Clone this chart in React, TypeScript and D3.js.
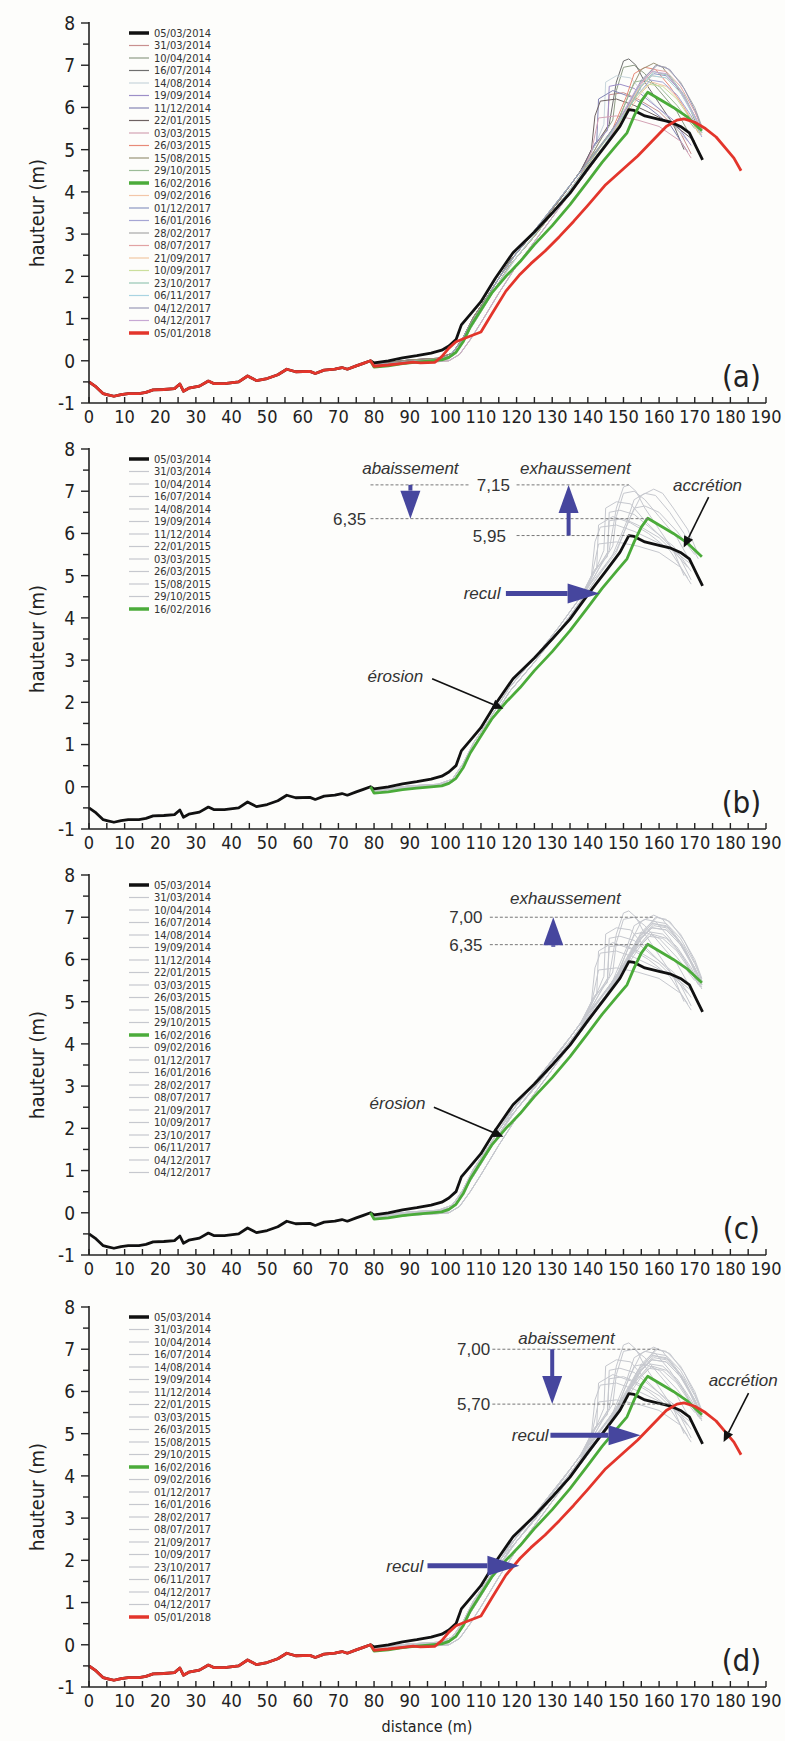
import React from 'react';
import * as d3 from 'd3';

type Pt = [number, number];

const NARROW = '"Liberation Sans Narrow", "Arial Narrow", "DejaVu Sans Condensed", "Liberation Sans", sans-serif';
const SANS = '"Liberation Sans", Arial, sans-serif';

// survey dates in legend order
const dates = [
  '05/03/2014', '31/03/2014', '10/04/2014', '16/07/2014', '14/08/2014', '19/09/2014',
  '11/12/2014', '22/01/2015', '03/03/2015', '26/03/2015', '15/08/2015', '29/10/2015',
  '16/02/2016', '09/02/2016', '01/12/2017', '16/01/2016', '28/02/2017', '08/07/2017',
  '21/09/2017', '10/09/2017', '23/10/2017', '06/11/2017', '04/12/2017', '04/12/2017',
  '05/01/2018',
];

// colours of panel (a)
const colorsA = [
  '#111111', '#c9908f', '#8f9d86', '#6f6f6f', '#c8d6dc', '#9d8fc8', '#8585b5', '#6e6262',
  '#d4a3b5', '#e88a78', '#9a9478', '#9cbc98', '#4bab3a', '#f3c6a8', '#8d98c4', '#a6a6d4',
  '#a8a8a8', '#e2a3a3', '#f2c8a4', '#cbdf9c', '#97c7b4', '#a9d4e2', '#9a9ab8', '#c7a8d4',
  '#e3352b',
];

// shared seaward part of the profile (distance m, height m)
const seaward: Pt[] = [
  [0, -0.5], [2, -0.62], [4, -0.78], [5, -0.8], [7, -0.84], [9, -0.8], [11, -0.78], [14, -0.78],
  [16, -0.75], [18, -0.69], [21, -0.68], [24, -0.66], [25.5, -0.55], [26.5, -0.72], [28, -0.65],
  [31, -0.6], [33.5, -0.48], [35, -0.54], [38, -0.54], [42, -0.5], [44.5, -0.36], [47, -0.47],
  [50, -0.42], [53, -0.33], [55.5, -0.2], [58, -0.26], [62, -0.25], [63.5, -0.3], [66, -0.22],
  [69, -0.2], [71, -0.16], [72.5, -0.2], [75, -0.12], [77, -0.06], [79, 0.0],
];

const landBlack: Pt[] = [
  [80, -0.05], [84, 0.0], [88, 0.07], [92, 0.12], [96, 0.18], [99, 0.25], [101, 0.35], [103, 0.5],
  [104.5, 0.85], [107, 1.1], [110, 1.4], [114, 1.95], [119, 2.56], [125, 3.05], [130, 3.5],
  [135, 3.97], [140, 4.55], [145, 5.1], [149, 5.55], [151.5, 5.95], [153, 5.93], [156, 5.8],
  [160, 5.72], [163, 5.66], [166, 5.55], [168.5, 5.4], [170.5, 5.05], [172.2, 4.76],
];

const landGreen: Pt[] = [
  [79, 0.0], [80, -0.15], [84, -0.12], [88, -0.07], [92, -0.03], [96, 0.0], [99, 0.02], [101, 0.08],
  [103, 0.2], [105, 0.45], [107, 0.8], [110, 1.2], [113, 1.6], [117, 2.0], [121, 2.35], [125, 2.75],
  [130, 3.2], [135, 3.7], [140, 4.25], [144, 4.7], [148, 5.1], [151, 5.4], [153, 5.8], [155, 6.15],
  [156.8, 6.36], [160, 6.2], [164, 6.0], [168, 5.77], [172, 5.45],
];

const landRed: Pt[] = [
  [80, -0.13], [84, -0.1], [88, -0.06], [91, -0.03], [93, -0.05], [97, -0.04], [99, 0.1], [101, 0.3],
  [103, 0.45], [106, 0.55], [110, 0.68], [113, 1.1], [117, 1.65], [121, 2.05], [124, 2.3], [128, 2.6],
  [132, 2.94], [136, 3.3], [140, 3.68], [145, 4.17], [150, 4.55], [154, 4.85], [158, 5.2], [162, 5.55],
  [165, 5.7], [167, 5.73], [170, 5.65], [173, 5.5], [176, 5.3], [179, 5.0], [181, 4.8], [183, 4.5],
];

// lower beach/dune-foot parts of the other surveys
const lowerA1: Pt[] = [[80, -0.08], [90, 0.02], [98, 0.06], [102, 0.18], [105, 0.55], [108, 1.05], [112, 1.55], [118, 2.35], [125, 3.05], [132, 3.8], [138, 4.5]];
const lowerA2: Pt[] = [[80, -0.1], [90, -0.02], [98, 0.04], [102, 0.12], [105, 0.45], [108, 0.95], [112, 1.45], [118, 2.25], [125, 2.95], [132, 3.7], [138, 4.4]];
const lowerB1: Pt[] = [[80, -0.12], [90, -0.04], [98, 0.0], [101, 0.05], [104, 0.3], [107, 0.75], [110, 1.15], [115, 1.85], [120, 2.45], [127, 3.2], [134, 3.95], [140, 4.6], [145, 5.15]];
const lowerB2: Pt[] = [[80, -0.1], [90, -0.02], [98, 0.02], [101, 0.1], [104, 0.4], [107, 0.85], [110, 1.25], [115, 1.95], [120, 2.55], [127, 3.3], [134, 4.05], [140, 4.7], [145, 5.25]];
const lowerB3: Pt[] = [[80, -0.14], [90, -0.06], [98, -0.02], [101, 0.0], [104, 0.15], [107, 0.5], [110, 0.9], [115, 1.6], [120, 2.25], [127, 3.05], [134, 3.85], [140, 4.5], [145, 5.1]];

// dune crests 2014-2015 (scarped)
const crestA1: Pt[] = [[142, 5.0], [145.5, 5.55], [146, 6.3], [150, 6.35], [154, 6.2], [160, 5.9], [166, 5.4], [169, 4.9]];
const crestA2: Pt[] = [[143, 5.15], [147, 5.7], [148, 6.4], [150, 6.95], [153, 7.0], [156, 6.8], [160, 6.4], [165, 5.9], [169, 5.3]];
const crestA3: Pt[] = [[142, 5.1], [146, 5.6], [148, 6.6], [150, 7.1], [151.5, 7.15], [153.5, 7.0], [156, 6.6], [160, 6.1], [164, 5.6], [167, 5.0]];
const crestA4: Pt[] = [[142, 5.1], [144.5, 5.6], [145, 6.6], [148, 6.75], [152, 6.7], [156, 6.3], [162, 5.8], [168, 5.2]];
const crestA5: Pt[] = [[142, 5.15], [145.5, 5.45], [146, 6.5], [149, 6.55], [153, 6.45], [158, 6.1], [164, 5.7], [169, 5.1]];
const crestA6: Pt[] = [[141, 5.0], [142.5, 5.2], [143, 6.2], [147, 6.4], [152, 6.25], [157, 6.0], [163, 5.6], [168, 4.95]];
const crestA7: Pt[] = [[141, 5.0], [142, 5.8], [143.5, 6.15], [148, 6.2], [153, 6.05], [158, 5.85], [164, 5.6], [170, 5.2]];
const crestA8: Pt[] = [[141, 4.95], [143, 5.75], [148, 5.8], [154, 5.7], [160, 5.55], [166, 5.2], [169, 4.8]];
const crestA9: Pt[] = [[143, 5.0], [147, 5.5], [151, 6.3], [153, 6.8], [156, 6.95], [159, 6.9], [163, 6.5], [167, 6.0], [171, 5.4]];
const crestA10: Pt[] = [[143, 5.05], [148, 5.6], [152, 6.4], [155, 6.9], [158.5, 7.05], [161, 6.95], [164, 6.6], [168, 6.1], [171, 5.5]];
const crestA11: Pt[] = [[143, 5.0], [148, 5.55], [151, 6.2], [153, 6.6], [156, 6.65], [160, 6.5], [165, 6.05], [170, 5.5]];

// dune crests 2016-2017 (rounded)
const crestB1: Pt[] = [[151, 5.85], [155, 6.35], [158, 6.6], [162, 6.5], [166, 6.15], [170, 5.6], [172, 5.35]];
const crestB2: Pt[] = [[151, 5.95], [155, 6.5], [158.5, 6.8], [162, 6.75], [166, 6.4], [170, 5.8], [172, 5.4]];
const crestB3: Pt[] = [[150, 5.8], [154, 6.3], [157.5, 6.65], [161, 6.6], [165, 6.3], [169, 5.8], [172, 5.3]];
const crestB4: Pt[] = [[151, 6.0], [155, 6.6], [159, 7.0], [162, 6.95], [166, 6.6], [170, 6.0], [172, 5.55]];
const crestB5: Pt[] = [[151, 5.95], [155, 6.55], [158.5, 6.9], [162, 6.85], [166, 6.5], [170, 5.9], [172, 5.5]];
const crestB6: Pt[] = [[150, 5.85], [154, 6.4], [158, 6.75], [162, 6.7], [166, 6.35], [170, 5.8], [172, 5.4]];
const crestB7: Pt[] = [[150, 5.8], [154, 6.3], [157, 6.55], [161, 6.5], [165, 6.2], [169, 5.7], [171.5, 5.35]];
const crestB8: Pt[] = [[151, 5.9], [155, 6.5], [158.5, 6.85], [163, 6.75], [167, 6.3], [170.5, 5.7], [172, 5.45]];
const crestB9: Pt[] = [[150, 5.85], [154, 6.45], [158, 6.75], [162, 6.7], [166, 6.35], [170, 5.75], [172, 5.4]];
const crestB10: Pt[] = [[151, 6.0], [155, 6.65], [159.5, 7.0], [163, 6.9], [167, 6.45], [170.5, 5.85], [172, 5.5]];
const crestB11: Pt[] = [[150, 5.9], [154, 6.5], [158, 6.85], [162, 6.8], [166, 6.4], [170, 5.8], [172, 5.45]];

// one profile per date (same order as dates)
const profiles: Pt[][] = [
  seaward.concat(landBlack),
  lowerA1.concat(crestA1), lowerA2.concat(crestA2), lowerA1.concat(crestA3), lowerA2.concat(crestA4),
  lowerA1.concat(crestA5), lowerA2.concat(crestA6), lowerA1.concat(crestA7), lowerA2.concat(crestA8),
  lowerA2.concat(crestA9), lowerA1.concat(crestA10), lowerA2.concat(crestA11),
  landGreen,
  lowerB1.concat(crestB1), lowerB2.concat(crestB2), lowerB3.concat(crestB3), lowerB2.concat(crestB4),
  lowerB3.concat(crestB5), lowerB1.concat(crestB6), lowerB3.concat(crestB7), lowerB2.concat(crestB8),
  lowerB1.concat(crestB9), lowerB2.concat(crestB10), lowerB3.concat(crestB11),
  seaward.concat(landRed),
];

const HEAVY = [0, 12, 24];
const GREY = '#c6c8ce';
const BLUE = '#46469e';

type Ann =
  | { kind: 'dash'; y: number; x1: number; x2: number }
  | { kind: 'text'; x: number; y: number; text: string; anchor: string; italic?: boolean }
  | { kind: 'blue'; x1: number; y1: number; x2: number; y2: number }
  | { kind: 'black'; x1: number; y1: number; x2: number; y2: number };

const annB: Ann[] = [
  { kind: 'dash', y: 7.15, x1: 79, x2: 107 },
  { kind: 'dash', y: 7.15, x1: 120, x2: 151.5 },
  { kind: 'dash', y: 6.35, x1: 79, x2: 157 },
  { kind: 'dash', y: 5.95, x1: 120, x2: 152 },
  { kind: 'text', x: 113.5, y: 7.15, text: '7,15', anchor: 'middle' },
  { kind: 'text', x: 77.8, y: 6.35, text: '6,35', anchor: 'end' },
  { kind: 'text', x: 117, y: 5.95, text: '5,95', anchor: 'end' },
  { kind: 'text', x: 90.2, y: 7.55, text: 'abaissement', anchor: 'middle', italic: true },
  { kind: 'text', x: 136.5, y: 7.55, text: 'exhaussement', anchor: 'middle', italic: true },
  { kind: 'text', x: 173.6, y: 7.15, text: 'accrétion', anchor: 'middle', italic: true },
  { kind: 'text', x: 115.5, y: 4.58, text: 'recul', anchor: 'end', italic: true },
  { kind: 'text', x: 93.8, y: 2.63, text: 'érosion', anchor: 'end', italic: true },
  { kind: 'blue', x1: 90.2, y1: 7.15, x2: 90.2, y2: 6.35 },
  { kind: 'blue', x1: 134.6, y1: 5.95, x2: 134.6, y2: 7.15 },
  { kind: 'blue', x1: 117, y1: 4.58, x2: 143.3, y2: 4.58 },
  { kind: 'black', x1: 173.9, y1: 6.86, x2: 166.9, y2: 5.67 },
  { kind: 'black', x1: 96.3, y1: 2.56, x2: 116.3, y2: 1.85 },
];

const annC: Ann[] = [
  { kind: 'dash', y: 7.0, x1: 112.5, x2: 158.7 },
  { kind: 'dash', y: 6.35, x1: 112.5, x2: 157 },
  { kind: 'text', x: 110.4, y: 7.0, text: '7,00', anchor: 'end' },
  { kind: 'text', x: 110.4, y: 6.35, text: '6,35', anchor: 'end' },
  { kind: 'text', x: 133.7, y: 7.45, text: 'exhaussement', anchor: 'middle', italic: true },
  { kind: 'text', x: 94.4, y: 2.6, text: 'érosion', anchor: 'end', italic: true },
  { kind: 'blue', x1: 130.3, y1: 6.3, x2: 130.3, y2: 7.0 },
  { kind: 'black', x1: 96.8, y1: 2.5, x2: 116.3, y2: 1.8 },
];

const annD: Ann[] = [
  { kind: 'dash', y: 7.0, x1: 113.2, x2: 160 },
  { kind: 'dash', y: 5.7, x1: 113.2, x2: 164 },
  { kind: 'text', x: 112.6, y: 7.0, text: '7,00', anchor: 'end' },
  { kind: 'text', x: 112.6, y: 5.7, text: '5,70', anchor: 'end' },
  { kind: 'text', x: 134, y: 7.26, text: 'abaissement', anchor: 'middle', italic: true },
  { kind: 'text', x: 129, y: 4.96, text: 'recul', anchor: 'end', italic: true },
  { kind: 'text', x: 93.8, y: 1.87, text: 'recul', anchor: 'end', italic: true },
  { kind: 'text', x: 173.9, y: 6.27, text: 'accrétion', anchor: 'start', italic: true },
  { kind: 'blue', x1: 130, y1: 7.0, x2: 130, y2: 5.7 },
  { kind: 'blue', x1: 129.5, y1: 4.96, x2: 154.8, y2: 4.96 },
  { kind: 'blue', x1: 95, y1: 1.87, x2: 120.8, y2: 1.87 },
  { kind: 'black', x1: 185.1, y1: 5.96, x2: 178.1, y2: 4.8 },
];

const xScale = d3.scaleLinear().domain([0, 190]).range([89, 766]);
const PANEL_H = 380;

function arrowHead(x1: number, y1: number, x2: number, y2: number, len: number, half: number) {
  const dx = x2 - x1, dy = y2 - y1;
  const L = Math.hypot(dx, dy) || 1;
  const ux = dx / L, uy = dy / L;
  const bx = x2 - ux * len, by = y2 - uy * len;
  const pts = [[x2, y2], [bx - uy * half, by + ux * half], [bx + uy * half, by - ux * half]];
  return { bx, by, points: pts.map(p => p.join(',')).join(' ') };
}

function Panel({ top, tag, count, colored, ann, showXTitle }: {
  top: number; tag: string; count: number; colored: boolean; ann: Ann[]; showXTitle?: boolean;
}) {
  const y = d3.scaleLinear().domain([-1, 8]).range([top + PANEL_H, top]);
  const line = d3.line<Pt>().x(d => xScale(d[0])).y(d => y(d[1]));
  const idx = d3.range(count);
  const thin = idx.filter(i => !HEAVY.includes(i));
  const heavy = idx.filter(i => HEAVY.includes(i));
  const colorOf = (i: number) => (colored || HEAVY.includes(i) ? colorsA[i] : GREY);
  const x0 = xScale(0);
  const yb = y(-1);

  return (
    <g>
      {thin.map(i => (
        <path key={'t' + i} d={line(profiles[i]) || ''} fill="none" stroke={colorOf(i)} strokeWidth={1} strokeLinejoin="round" />
      ))}
      {heavy.map(i => (
        <path key={'h' + i} d={line(profiles[i]) || ''} fill="none" stroke={colorOf(i)} strokeWidth={2.8} strokeLinejoin="round" />
      ))}

      {/* annotations */}
      {ann.map((a, k) => {
        if (a.kind === 'dash') {
          return <line key={k} x1={xScale(a.x1)} x2={xScale(a.x2)} y1={y(a.y)} y2={y(a.y)} stroke="#777" strokeWidth={1} strokeDasharray="3,2" />;
        }
        if (a.kind === 'text') {
          return (
            <text key={k} x={xScale(a.x)} y={y(a.y)} dy="0.35em" textAnchor={a.anchor}
              fontFamily={SANS} fontSize={17} fontStyle={a.italic ? 'italic' : 'normal'} fill="#333">{a.text}</text>
          );
        }
        const X1 = xScale(a.x1), Y1 = y(a.y1), X2 = xScale(a.x2), Y2 = y(a.y2);
        if (a.kind === 'blue') {
          const horiz = Math.abs(Y2 - Y1) < 1;
          const h = arrowHead(X1, Y1, X2, Y2, horiz ? 32 : 28, 10);
          return (
            <g key={k}>
              <line x1={X1} y1={Y1} x2={h.bx} y2={h.by} stroke={BLUE} strokeWidth={horiz ? 5 : 4} />
              <polygon points={h.points} fill={BLUE} />
            </g>
          );
        }
        const h = arrowHead(X1, Y1, X2, Y2, 11, 5);
        return (
          <g key={k}>
            <line x1={X1} y1={Y1} x2={h.bx} y2={h.by} stroke="#111" strokeWidth={1.6} />
            <polygon points={h.points} fill="#111" />
          </g>
        );
      })}

      {/* legend */}
      {idx.map(i => {
        const ly = top + 10 + i * 12.5;
        return (
          <g key={'l' + i}>
            <line x1={129} x2={149} y1={ly} y2={ly} stroke={colorOf(i)} strokeWidth={HEAVY.includes(i) ? 3.5 : 1.2} />
            <text x={154} y={ly} dy="0.35em" fontFamily={NARROW} fontSize={11} fill="#333">{dates[i]}</text>
          </g>
        );
      })}

      {/* y axis */}
      <line x1={x0} x2={x0} y1={top - 1} y2={yb} stroke="#222" strokeWidth={1.6} />
      {d3.range(-1, 8.01, 0.5).map(v => {
        const major = Math.abs(v - Math.round(v)) < 1e-6;
        return (
          <g key={'y' + v}>
            <line x1={x0 - (major ? 8 : 6)} x2={x0} y1={y(v)} y2={y(v)} stroke="#222" strokeWidth={1.4} />
            {major && (
              <text x={x0 - 14} y={y(v)} dy="0.36em" textAnchor="end" fontFamily={NARROW} fontSize={19} fill="#222">{v}</text>
            )}
          </g>
        );
      })}
      <text transform={`translate(37,${y(3.5)}) rotate(-90)`} textAnchor="middle" dy="0.35em"
        fontFamily={NARROW} fontSize={20} fill="#222">hauteur (m)</text>

      {/* x axis */}
      <line x1={x0} x2={xScale(190)} y1={yb} y2={yb} stroke="#222" strokeWidth={1.6} />
      {d3.range(0, 190.01, 5).map(v => (
        <line key={'xt' + v} x1={xScale(v)} x2={xScale(v)} y1={yb} y2={yb - 6} stroke="#222" strokeWidth={1.4} />
      ))}
      {d3.range(0, 190.01, 10).map(v => (
        <text key={'xl' + v} x={xScale(v)} y={yb + 20} textAnchor="middle" fontFamily={NARROW} fontSize={18} fill="#222">{v}</text>
      ))}
      {showXTitle && (
        <text x={427} y={yb + 45} textAnchor="middle" fontFamily={NARROW} fontSize={16} fill="#222">distance (m)</text>
      )}

      <text x={xScale(183.1)} y={y(-0.35)} dy="0.36em" textAnchor="middle" fontFamily={NARROW} fontSize={31} fill="#222">{tag}</text>
    </g>
  );
}

export default function App() {
  return (
    <svg width={785} height={1741} style={{ position: 'absolute', left: 0, top: 0 }}>
      <rect width={785} height={1741} fill="#fdfdfb" />
      <Panel top={23} tag="(a)" count={25} colored ann={[]} />
      <Panel top={449} tag="(b)" count={13} colored={false} ann={annB} />
      <Panel top={875} tag="(c)" count={24} colored={false} ann={annC} />
      <Panel top={1307} tag="(d)" count={25} colored={false} ann={annD} showXTitle />
    </svg>
  );
}
